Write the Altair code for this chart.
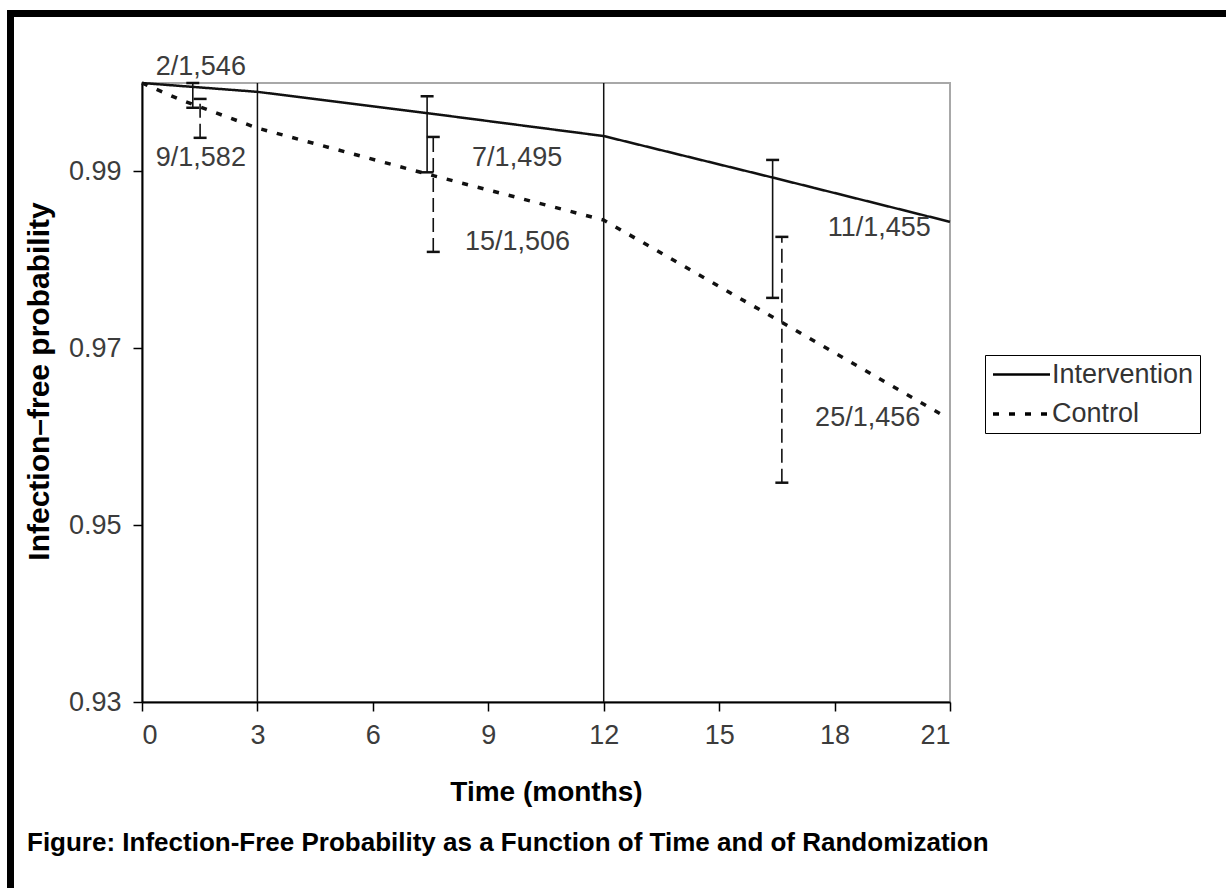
import altair as alt
import pandas as pd

# ---- data ----
series_names = ["Intervention", "Control"]

months_int = [0, 3, 7.4, 12, 16.4, 21]
surv_int = [1.0, 0.9990, 0.9966, 0.9940, 0.9893, 0.9843]

months_ctl = [0, 1.0, 3, 7.5, 12, 16.6, 20.75]
surv_ctl = [1.0, 0.9981, 0.9949, 0.9896, 0.9845, 0.9730, 0.9626]

err_months_int = [1.32, 7.41, 16.39]
err_lo_int = [0.9972, 0.9899, 0.9757]
err_hi_int = [1.0, 0.9985, 0.9913]

err_months_ctl = [1.51, 7.57, 16.63]
err_lo_ctl = [0.9938, 0.9809, 0.9548]
err_hi_ctl = [0.9982, 0.9939, 0.9826]

label_text = ["2/1,546", "9/1,582", "7/1,495", "15/1,506", "11/1,455", "25/1,456"]
label_month = [1.53, 1.53, 9.75, 9.76, 19.16, 18.86]
label_value = [1.0018, 0.9915, 0.9915, 0.9820, 0.9836, 0.9621]

ref_months = [3, 12]
x_ticks = [0, 3, 6, 9, 12, 15, 18, 21]
y_ticks = [0.93, 0.95, 0.97, 0.99]

caption = "Figure: Infection-Free Probability as a Function of Time and of Randomization"

# ---- tables ----
lines_df = pd.DataFrame(
    {"month": months_int + months_ctl,
     "surv": surv_int + surv_ctl,
     "series": ["Intervention"] * len(months_int) + ["Control"] * len(months_ctl)}
)
err_int_df = pd.DataFrame({"month": err_months_int, "lo": err_lo_int, "hi": err_hi_int})
err_ctl_df = pd.DataFrame({"month": err_months_ctl, "lo": err_lo_ctl, "hi": err_hi_ctl})
caps_df = pd.DataFrame({
    "month": err_months_int * 2 + err_months_ctl * 2,
    "v": err_lo_int + err_hi_int + err_lo_ctl + err_hi_ctl,
})
labels_df = pd.DataFrame({"month": label_month, "surv": label_value, "text": label_text})
ref_df = pd.DataFrame({"month": ref_months})

FONT = "Liberation Sans"
W, H = 808, 619

xscale = alt.Scale(domain=[0, 21], nice=False, zero=False)
yscale = alt.Scale(domain=[0.93, 1.0], nice=False, zero=False)

x_axis = alt.Axis(values=x_ticks, title="Time (months)", titleFontSize=28,
                  titleFontWeight="bold", titleColor="black", titlePadding=30,
                  labelPadding=11, labelFontSize=27, format="d")
y_axis = alt.Axis(values=y_ticks, title="Infection–free probability", format=".2f",
                  titleFontSize=30, titleFontWeight="bold", titleColor="black",
                  titlePadding=14, titleY=298, labelPadding=12, labelFontSize=27)

lines = alt.Chart(lines_df).mark_line(color="#111").encode(
    x=alt.X("month:Q", scale=xscale, axis=x_axis),
    y=alt.Y("surv:Q", scale=yscale, axis=y_axis),
    strokeDash=alt.StrokeDash(
        "series:N",
        scale=alt.Scale(domain=series_names, range=[[1, 0], [6, 10]]),
        legend=alt.Legend(
            title=None, orient="none", legendX=843, legendY=272,
            strokeColor="black", fillColor="white", padding=6,
            symbolType="M-1,0H3.75", symbolSize=576, symbolStrokeWidth=3,
            symbolStrokeColor="black", symbolFillColor="transparent",
            labelOffset=33, labelFontSize=27, labelFont=FONT, labelColor="#333",
            rowPadding=12,
        ),
    ),
    strokeWidth=alt.StrokeWidth(
        "series:N", scale=alt.Scale(domain=series_names, range=[2.5, 3.5]), legend=None
    ),
    order="month:Q",
)

ref_rules = alt.Chart(ref_df).mark_rule(color="#111", strokeWidth=1.5).encode(
    x=alt.X("month:Q", scale=xscale)
)

err_int = alt.Chart(err_int_df).mark_rule(color="#111", strokeWidth=1.6).encode(
    x=alt.X("month:Q", scale=xscale),
    y=alt.Y("lo:Q", scale=yscale),
    y2="hi:Q",
)
err_ctl = alt.Chart(err_ctl_df).mark_rule(
    color="#111", strokeWidth=1.6, strokeDash=[14, 6]
).encode(
    x=alt.X("month:Q", scale=xscale),
    y=alt.Y("lo:Q", scale=yscale),
    y2="hi:Q",
)

caps = alt.Chart(caps_df).mark_tick(
    color="#111", orient="horizontal", size=13, thickness=2.5, opacity=1
).encode(
    x=alt.X("month:Q", scale=xscale),
    y=alt.Y("v:Q", scale=yscale),
)

texts = alt.Chart(labels_df).mark_text(
    font=FONT, fontSize=27, color="#3c3c3c", align="center", baseline="middle"
).encode(
    x=alt.X("month:Q", scale=xscale),
    y=alt.Y("surv:Q", scale=yscale),
    text="text:N",
)

one = pd.DataFrame({"k": [0]})
border_left = alt.Chart(one).mark_rule(color="black", strokeWidth=7).encode(
    x=alt.value(-131.5), y=alt.value(-73), y2=alt.value(805)
)
border_top = alt.Chart(one).mark_rule(color="black", strokeWidth=7).encode(
    y=alt.value(-69.5), x=alt.value(-135), x2=alt.value(1084)
)
cap_text = alt.Chart(one).mark_text(
    font=FONT, fontSize=26, fontWeight="bold", color="black", align="left",
    baseline="alphabetic"
).encode(x=alt.value(-115), y=alt.value(768), text=alt.value(caption))

chart = alt.layer(
    ref_rules, lines, err_int, err_ctl, caps, texts, border_left, border_top, cap_text
).properties(
    width=W, height=H,
    padding={"left": 142, "top": 83, "right": 276, "bottom": 186},
    autosize=alt.AutoSizeParams(type="none"),
    background="white",
).configure_view(
    stroke="#a8a8a8", strokeWidth=2
).configure_axis(
    domainColor="black", domainWidth=2, tickColor="black", tickWidth=1.5,
    tickSize=9, grid=False, labelFont=FONT, labelColor="#3c3c3c",
    titleFont=FONT,
)

chart.save("out.html", embed_options={"renderer": "svg", "actions": False})
